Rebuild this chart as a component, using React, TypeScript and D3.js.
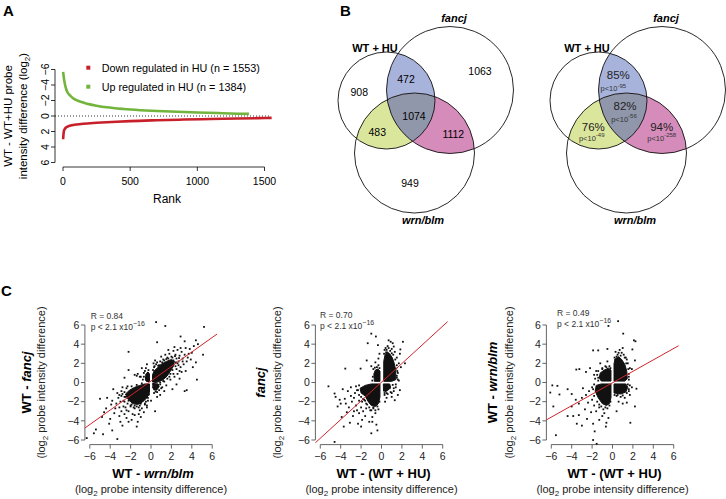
import React from 'react';
import * as d3 from 'd3';

const W = 726, H = 499;
const FONT = "'Liberation Sans', Arial, Helvetica, sans-serif";

// ---------- Panel A data ----------
const rankTicks = [0, 500, 1000, 1500];
const diffTicks = [-6, -4, -2, 0, 2, 4, 6];
const upRank = [1, 5, 10, 20, 35, 50, 75, 100, 150, 200, 250, 325, 450, 575, 700, 850, 1000, 1150, 1300, 1384];
const upDiff = [-5.7, -5.1, -4.5, -3.7, -3.0, -2.7, -2.3, -2.05, -1.75, -1.5, -1.33, -1.12, -0.9, -0.75, -0.64, -0.54, -0.46, -0.38, -0.3, -0.27];
const downRank = [1, 3, 6, 12, 25, 50, 100, 150, 250, 400, 500, 700, 900, 1100, 1300, 1450, 1553];
const downDiff = [3.0, 2.5, 2.0, 1.7, 1.45, 1.25, 1.1, 1.0, 0.88, 0.74, 0.66, 0.55, 0.46, 0.39, 0.33, 0.28, 0.24];
const legendLabels = ['Down regulated in HU (n = 1553)', 'Up regulated in HU (n = 1384)'];

// ---------- Panel B data ----------
const vennSets = ['WT + HU', 'fancj', 'wrn/blm'];
const vennCounts = [908, 1063, 949, 472, 483, 1112, 1074]; // WT only, fancj only, wrn only, WT&fancj, WT&wrn, fancj&wrn, all
const vennPercents = ['85%', '76%', '94%', '82%']; // WT&fancj, WT&wrn, fancj&wrn, all
const vennPExp = ['-95', '-49', '-258', '-56'];

// ---------- Panel C data ----------
const axisTicksC = [-6, -4, -2, 0, 2, 4, 6];
const rValues = ['0.84', '0.70', '0.49'];
const fitIntercept = [0.155, 0.03, -0.03];
const fitSlope = [0.757, 0.975, 0.597];

const scatter1 = [
  [0.5,6.3],[1.4,5.9],[5.2,5.8],[0.6,4.2],[2.9,4.8],[3.3,4.3],[4.4,4.4],[4.6,4.0],[5.1,2.9],[4.4,2.1],[4.5,0.3],[3.5,-0.8],[3.3,-0.9],[2.5,-0.2],[2.1,-0.7],
  [2.6,3.4],[3.0,3.2],[2.8,2.8],[3.4,3.6],[3.8,3.5],[3.1,2.5],[3.6,2.6],[4.0,3.1],[2.4,2.9],[2.0,2.7],[1.6,2.6],[1.2,2.4],[0.9,2.2],[0.5,1.9],[0.3,1.6],[1.8,3.0],[2.2,3.3],[2.7,2.2],[3.2,1.9],[2.9,1.6],[2.5,1.4],[2.6,0.9],[2.3,0.6],[1.9,0.3],[3.0,1.1],[3.9,2.4],[3.4,1.2],[2.8,0.4],[1.5,-0.3],[1.1,-0.5],[3.7,3.0],[4.2,3.8],[2.3,3.7],[1.7,3.4],[3.5,2.2],[4.1,1.6],[2.0,2.0],[2.7,1.8],[3.3,2.9],[1.4,2.9],[2.9,3.6],[1.0,2.7],[0.4,2.3],
  [0.25,2.0],[0.6,2.1],[0.8,1.8],[1.3,2.3],[1.7,2.5],[2.1,2.6],[2.5,2.5],[2.6,2.0],[2.4,1.7],[2.1,1.3],[1.9,0.9],[1.6,0.4],[1.3,0.1],[0.9,0.0],[2.2,0.9],[1.8,0.6],[0.2,1.3],[0.35,1.7],[0.7,1.75],[1.1,2.1],[1.5,2.45],[2.35,2.75],[2.75,2.55],[2.45,2.1],[1.2,0.15],[2.8,1.2],[3.1,2.2],[2.2,2.3],
  [0.3,-0.2],[0.5,-0.4],[0.7,-0.3],[0.4,-0.7],[0.8,-0.8],[0.6,-1.0],[0.9,-1.3],[0.3,-1.1],[1.0,-0.6],[0.2,-0.5],[0.6,-1.5],[1.3,-0.9],[0.4,-3.0],[0.9,-0.2],[0.45,-0.95],
  [-0.3,0.2],[-0.5,0.4],[-0.4,0.8],[-0.7,0.6],[-0.3,1.0],[-0.6,1.2],[-0.2,0.5],[-0.8,0.3],[-1.0,0.6],[-1.3,0.9],[-0.9,1.5],[-0.4,1.9],[-1.4,0.7],[-2.2,3.2],[-2.2,1.3],[-1.1,0.6],[-1.6,0.8],[-2.6,0.5],[-0.5,1.5],[-0.7,1.0],[-0.25,1.3],
  [-5.0,-1.7],[-3.7,-0.7],[-4.3,-1.6],[-3.2,-1.6],[-4.6,-3.1],[-4.0,-3.8],[-5.4,-4.9],[-4.7,-5.4],[-3.8,-5.0],[-3.3,-5.9],[-6.3,-5.8],[-2.8,-4.5],[-1.4,-4.6],[-1.3,-4.1],[-1.1,-2.9],[-1.8,-3.3],[-3.5,-2.7],[-2.7,-2.5],[-2.4,-2.9],[-0.9,-2.7],[-0.6,-2.2],[0.0,-1.9],[-3.0,-2.0],[-2.9,-1.4],[-3.3,-1.1],[-2.6,-1.0],[-2.8,-0.5],[-2.3,-0.4],[-3.9,-2.3],[-3.6,-3.2],[-3.1,-3.5],[-2.6,-3.3],[-2.2,-3.0],[-1.6,-2.7],[-2.0,-2.5],[-1.4,-2.5],[-0.4,-2.6],[-0.7,-3.1],[-1.9,-3.9],[-4.4,-2.7],[-3.0,-4.1],[-4.1,-4.3],[-2.4,-3.7],[-1.0,-3.6],[-1.6,-3.4],[-0.3,-1.6],[-5.6,-5.3],[-2.0,-1.8],[-2.6,-2.0],[-1.5,-1.9],[-3.4,-2.2],[-2.9,-3.0],[-3.8,-1.9],[-4.8,-3.6],[-2.2,-4.1],[-1.2,-3.3],[-0.8,-1.8],[-1.9,-2.3],[-3.1,-2.6],[-2.5,-1.5],
  [-2.6,-1.5],[-2.7,-1.9],[-2.3,-2.2],[-2.0,-2.4],[-1.6,-2.4],[-1.1,-2.4],[-0.6,-2.3],[-0.3,-1.9],[-0.25,-1.3],[-2.4,-0.6],[-1.9,-0.4],[-1.4,-0.25],[-0.9,-0.1],[-2.8,-1.2],[-2.2,-1.9],[-1.2,-2.6],[-0.5,-2.0],[-0.2,-1.2],[-1.7,-2.6],[-2.9,-0.9],[-3.1,-1.3],[-2.5,-2.6],[-1.0,-2.2],[-0.4,-2.4]
];
const scatter2 = [
  [-1.0,5.1],[-0.55,4.8],[-1.35,4.1],[-0.35,3.9],[-1.45,2.3],[-2.05,1.45],[-3.55,1.45],[-5.2,-0.4],[-0.3,2.5],[-0.6,2.1],[-1.0,1.7],[-0.2,3.0],
  [2.1,4.25],[0.9,4.25],[1.2,3.75],[1.85,3.45],[1.8,3.0],[1.45,1.45],[1.8,-0.8],[1.6,-1.3],[1.3,-1.85],[0.5,-1.6],[0.35,-2.0],[1.0,3.5],[0.6,3.8],[1.5,2.6],[1.7,2.0],[1.6,1.0],[2.3,2.0],[0.4,3.6],[1.3,3.2],[1.1,4.1],[0.7,4.4],[1.9,1.6],[1.5,0.5],[1.7,0.2],[1.4,-0.5],
  [0.25,3.0],[0.5,3.4],[0.85,3.3],[1.15,2.9],[1.35,2.4],[1.5,1.8],[1.55,1.2],[1.5,0.7],[0.3,3.4],[0.7,3.6],[1.25,1.5],[1.6,0.3],[0.45,3.15],[1.0,3.05],
  [-0.2,1.5],[-0.45,1.6],[-0.8,1.4],[-0.85,0.6],[-0.9,0.2],[-0.3,1.8],[-0.65,1.55],
  [-4.6,-1.15],[-4.1,-1.8],[-4.5,-1.5],[-3.3,-0.9],[-3.0,-1.4],[-2.4,-0.8],[-3.6,-1.7],[-2.9,-2.0],[-2.5,-2.4],[-2.2,-1.9],[-3.2,-2.6],[-2.7,-3.0],[-3.9,-3.6],[-3.7,-4.6],[-3.1,-4.2],[-2.3,-4.3],[-2.2,-3.2],[-1.8,-3.0],[-1.2,-4.1],[-1.0,-5.3],[-0.4,-5.0],[-4.6,-6.2],[-1.6,-3.5],[-2.0,-2.6],[-1.5,-2.7],[-1.0,-2.9],[-0.6,-3.2],[-0.3,-2.8],[-3.4,-3.1],[-4.3,-2.5],[-2.8,-3.5],[-1.9,-3.9],[-0.9,-3.6],[-3.0,-0.5],[-2.6,-1.1],[-3.8,-0.7],[-4.0,-2.2],[-2.0,-4.6],[-1.4,-2.3],[-0.8,-2.6],[-2.4,-2.9],[-3.5,-2.2],[-1.7,-1.8],[-2.7,-1.6],[-0.5,-4.4],[-0.9,-4.1],
  [-2.2,-0.3],[-2.3,-0.8],[-2.2,-1.3],[-1.8,-1.7],[-1.5,-2.2],[-1.2,-2.6],[-0.8,-2.7],[-0.4,-2.5],[-0.2,-2.0],[-2.5,-0.4],[-1.9,-2.0],[-1.1,-2.9],[-0.6,-2.9],[-2.0,-1.5],[-1.6,-1.9],
  [0.3,-1.3],[0.6,-1.2],[0.9,-1.0],[1.2,-0.9],[0.4,-0.9],[1.4,-0.2],[1.0,-1.5],[0.8,-0.6],[1.0,-1.1],[0.5,-1.1],[1.2,-0.6],[0.3,-1.1],[1.1,-0.25]
];
const scatter3 = [
  [0.55,6.4],[-0.4,5.9],[1.05,5.1],[2.1,4.4],[2.25,4.3],[-1.9,3.35],[-1.4,3.35],[-0.5,3.5],[1.95,3.45],[2.2,2.3],[1.9,1.4],[-3.55,1.35],[-3.25,1.4],[-2.2,1.5],
  [-5.9,-0.3],[-5.4,-0.35],[-6.1,-1.05],[-5.2,-1.25],[-5.8,-2.5],[-4.4,-0.7],[-4.0,-2.5],[-4.4,-3.5],[-3.85,-3.5],[-3.5,-4.3],[-3.0,-4.5],[-5.55,-5.5],[-1.75,-5.1],[-1.9,-6.0],[-1.55,-6.4],[-0.65,-4.6],[-0.6,-4.2],[0.4,-3.0],[2.2,-2.5],[2.35,-0.65],[1.75,-4.2],
  [0.5,2.9],[0.9,3.1],[1.2,2.6],[0.3,3.2],[1.5,2.0],[1.7,1.5],[1.6,0.6],[0.7,3.4],[1.1,2.9],[1.4,2.4],[0.4,2.7],[1.0,3.6],
  [0.2,2.6],[0.8,2.8],[1.35,2.0],[1.55,1.4],[1.6,0.9],[1.6,0.3],[1.3,2.6],[0.6,3.1],[0.25,2.35],
  [-0.3,1.7],[-0.7,1.7],[-1.0,1.4],[-1.6,1.2],[-1.4,0.5],[-1.8,0.8],[-0.5,2.2],[-1.2,2.0],[-2.6,1.1],
  [-0.2,1.5],[-0.6,1.6],[-1.0,1.5],[-1.4,1.2],[-1.5,0.8],[-1.4,0.2],[-1.7,0.4],
  [-2.0,-0.5],[-2.3,-0.9],[-2.6,-1.3],[-3.0,-1.6],[-2.0,-1.8],[-2.4,-2.1],[-1.8,-2.4],[-1.3,-2.6],[-0.9,-2.8],[-0.5,-2.7],[-1.6,-3.0],[-2.1,-3.1],[-2.7,-2.8],[-3.3,-2.2],[-1.0,-3.5],[-1.3,-3.9],[-0.8,-3.2],[-3.6,-1.8],[-2.9,-0.6],[-4.0,-1.2],[-3.3,-3.4],[-2.5,-3.8],[-0.4,-3.7],[-1.9,-4.3],
  [-0.3,-2.4],[-0.7,-2.6],[-1.1,-2.5],[-1.5,-2.0],[-1.8,-1.4],[-1.9,-0.7],[-1.8,-0.2],[-0.2,-2.0],[-1.3,-2.3],
  [1.6,-0.9],[1.7,-1.3],[1.2,-1.6],[0.8,-1.5],[0.4,-1.4],[1.9,-0.5],[1.0,-2.2],[0.6,-2.0],[1.4,-2.1],
  [1.5,-0.2],[1.6,-0.7],[1.4,-1.1],[1.0,-1.35],[0.5,-1.3],[0.2,-1.3],[1.7,-0.3]
];
// dense (saturated) point clouds, outlined in data units
const dense1 = [
  [[0.15,0.05],[0.15,0.8],[0.3,1.2],[0.6,1.5],[1.0,1.9],[1.5,2.2],[2.0,2.4],[2.3,2.2],[2.2,1.7],[1.9,1.2],[1.6,0.7],[1.2,0.3],[0.8,0.1],[0.5,0.0]],
  [[-0.15,-0.15],[-0.15,-1.0],[-0.4,-1.6],[-0.8,-2.0],[-1.3,-2.3],[-1.8,-2.2],[-2.3,-1.7],[-2.5,-1.2],[-2.1,-0.8],[-1.6,-0.5],[-1.1,-0.3],[-0.6,-0.15]],
  [[-0.15,0.1],[-0.15,0.9],[-0.3,1.1],[-0.5,0.9],[-0.55,0.3],[-0.45,0.1]],
  [[0.15,-0.1],[0.7,-0.15],[0.8,-0.45],[0.55,-0.8],[0.25,-0.75]]
];
const dense2 = [
  [[0.22,0.12],[0.22,2.2],[0.35,2.9],[0.55,3.2],[0.8,3.0],[1.05,2.6],[1.25,2.0],[1.4,1.2],[1.4,0.3],[1.0,0.12]],
  [[-0.15,0.12],[-0.15,1.2],[-0.35,1.4],[-0.6,1.3],[-0.75,0.9],[-0.7,0.12]],
  [[-0.15,-0.15],[-0.15,-1.5],[-0.3,-2.2],[-0.6,-2.5],[-1.0,-2.4],[-1.3,-2.0],[-1.6,-1.4],[-2.0,-1.1],[-2.1,-0.6],[-1.6,-0.3],[-1.0,-0.15]],
  [[0.18,-0.15],[0.8,-0.15],[0.9,-0.5],[0.6,-0.85],[0.2,-0.9]]
];
const dense3 = [
  [[0.15,0.15],[0.15,2.0],[0.3,2.5],[0.6,2.7],[0.9,2.4],[1.2,1.9],[1.4,1.2],[1.45,0.4],[1.2,0.15]],
  [[-0.15,0.15],[-0.15,1.3],[-0.4,1.5],[-0.8,1.3],[-1.2,1.0],[-1.3,0.5],[-1.1,0.15]],
  [[-0.15,-0.15],[-0.15,-1.6],[-0.3,-2.2],[-0.6,-2.4],[-1.0,-2.2],[-1.4,-1.6],[-1.7,-0.9],[-1.6,-0.3],[-1.1,-0.15]],
  [[0.15,-0.15],[1.3,-0.15],[1.5,-0.5],[1.3,-1.0],[0.8,-1.2],[0.15,-1.1]]
];

const scatterPoints = [scatter1, scatter2, scatter3];
const densePolys = [dense1, dense2, dense3];

const MINUS = '\u2212';
const fmt = (v: number) => (v < 0 ? MINUS + Math.abs(v) : String(v));

function PanelA() {
  const x = d3.scaleLinear().domain([0, 1500]).range([63, 264.5]);
  const y = d3.scaleLinear().domain([-6, 6]).range([69.5, 162.5]);
  const line = d3.line<[number, number]>().x(d => x(d[0])).y(d => y(d[1])).curve(d3.curveMonotoneX);
  const up = upRank.map((r, i) => [r, upDiff[i]] as [number, number]);
  const down = downRank.map((r, i) => [r, downDiff[i]] as [number, number]);
  const axX = 55, axY = 167;
  return (
    <g fontFamily={FONT}>
      <text x={3} y={16} fontSize={15} fontWeight="bold">A</text>
      <line x1={axX} x2={axX} y1={y(-6)} y2={y(6)} stroke="#000" strokeWidth={0.8} />
      {diffTicks.map(t => (
        <g key={t}>
          <line x1={axX - 4} x2={axX} y1={y(t)} y2={y(t)} stroke="#000" strokeWidth={0.8} />
          <text transform={`translate(${axX - 6},${y(t)}) rotate(-90)`} textAnchor="middle" fontSize={10.5}>{fmt(t)}</text>
        </g>
      ))}
      <line x1={x(0)} x2={x(1500)} y1={axY} y2={axY} stroke="#000" strokeWidth={0.8} />
      {rankTicks.map(t => (
        <g key={t}>
          <line x1={x(t)} x2={x(t)} y1={axY} y2={axY + 4} stroke="#000" strokeWidth={0.8} />
          <text x={x(t)} y={axY + 18} textAnchor="middle" fontSize={10.5}>{t}</text>
        </g>
      ))}
      <text x={167} y={203} textAnchor="middle" fontSize={12}>Rank</text>
      <text transform={`translate(12,116) rotate(-90)`} textAnchor="middle" fontSize={11.5}>WT - WT+HU probe</text>
      <text transform={`translate(27,116) rotate(-90)`} textAnchor="middle" fontSize={11.5}>
        intensity difference (log<tspan fontSize={8} dy={3}>2</tspan><tspan dy={-3}>)</tspan>
      </text>
      <line x1={axX} x2={270} y1={y(0)} y2={y(0)} stroke="#000" strokeWidth={0.8} strokeDasharray="1,2" />
      <path d={line(up) || ''} fill="none" stroke="#72b43c" strokeWidth={2.6} />
      <path d={line(down) || ''} fill="none" stroke="#c8202b" strokeWidth={2.6} />
      <rect x={86.3} y={65.7} width={4} height={4} fill="#c8202b" />
      <rect x={86.3} y={84.7} width={4} height={4} fill="#72b43c" />
      <text x={101.7} y={71.5} fontSize={10.8}>{legendLabels[0]}</text>
      <text x={101.7} y={90.5} fontSize={10.8}>{legendLabels[1]}</text>
    </g>
  );
}

function Venn({ dx, pct }: { dx: number; pct: boolean }) {
  const k = pct ? 'r' : 'l';
  const c = [
    { cx: 386.5 + dx, cy: 100.5, r: 48.5 },
    { cx: 450 + dx, cy: 90, r: 63.5 },
    { cx: 414.5 + dx, cy: 153, r: 60 },
  ];
  const fs = 10.5;
  const numPos = [
    [359.3, 95.5], [480, 74.5], [410, 186.5], [406, 83], [377.3, 135.5], [453.3, 138], [414, 120],
  ];
  const pctPos = [[406.3, 79, 401.3, 91], [381.3, 131, 379.7, 140.5], [449.7, 131, 449.7, 140.5], [413, 110, 412, 121.5]];
  return (
    <g fontFamily={FONT}>
      <defs>
        <clipPath id={`c0${k}`}><circle cx={c[0].cx} cy={c[0].cy} r={c[0].r} /></clipPath>
        <clipPath id={`c1${k}`}><circle cx={c[1].cx} cy={c[1].cy} r={c[1].r} /></clipPath>
      </defs>
      <g clipPath={`url(#c0${k})`}><circle cx={c[1].cx} cy={c[1].cy} r={c[1].r} fill="#a8b3dc" /></g>
      <g clipPath={`url(#c0${k})`}><circle cx={c[2].cx} cy={c[2].cy} r={c[2].r} fill="#dbe69d" /></g>
      <g clipPath={`url(#c1${k})`}><circle cx={c[2].cx} cy={c[2].cy} r={c[2].r} fill="#d58cba" /></g>
      <g clipPath={`url(#c0${k})`}><g clipPath={`url(#c1${k})`}><circle cx={c[2].cx} cy={c[2].cy} r={c[2].r} fill="#9097aa" /></g></g>
      {c.map((ci, i) => <circle key={i} cx={ci.cx} cy={ci.cy} r={ci.r} fill="none" stroke="#111" strokeWidth={0.9} />)}
      <text x={375 + dx} y={51.5} textAnchor="middle" fontSize={11} fontWeight="bold">{vennSets[0]}</text>
      <text x={454 + dx} y={22} textAnchor="middle" fontSize={11} fontWeight="bold" fontStyle="italic">{vennSets[1]}</text>
      <text x={423 + dx} y={224} textAnchor="middle" fontSize={11} fontWeight="bold" fontStyle="italic">{vennSets[2]}</text>
      {!pct && vennCounts.map((v, i) => (
        <text key={i} x={numPos[i][0] + dx} y={numPos[i][1]} textAnchor="middle" fontSize={fs}>{v}</text>
      ))}
      {pct && vennPercents.map((v, i) => (
        <g key={i}>
          <text x={pctPos[i][0] + dx} y={pctPos[i][1]} textAnchor="middle" fontSize={11.5} fill="#222">{v}</text>
          <text x={pctPos[i][2] + dx} y={pctPos[i][3]} textAnchor="middle" fontSize={7.5} fill="#333">
            p&lt;10<tspan dy={-3.5} fontSize={6}>{vennPExp[i]}</tspan>
          </text>
        </g>
      ))}
    </g>
  );
}

const plotX0 = [151, 381.5, 612.5];
const xTitles = [
  [['WT - ', false], ['wrn/blm', true]],
  [['WT - (WT + HU)', false]],
  [['WT - (WT + HU)', false]],
];
const yTitles = [
  [['WT - ', false], ['fancj', true]],
  [['fancj', true]],
  [['WT - ', false], ['wrn/blm', true]],
];
const yTitleOff = [[-54, -40], [-50, -34], [-49, -33]];
const rTextPos = [[90.7, 319], [320, 318], [557, 316]];

function Scatter({ idx }: { idx: number }) {
  const x0 = plotX0[idx];
  const xs = d3.scaleLinear().domain([-6.48, 6.48]).range([x0 - 66.1, x0 + 66.1]);
  const ys = d3.scaleLinear().domain([-6.48, 6.48]).range([444.6, 320.4]);
  const axX = xs(-6.48), axY = ys(-6.48);
  const poly = d3.line<number[]>().x(d => xs(d[0])).y(d => ys(d[1])).curve(d3.curveLinearClosed);
  const a = fitIntercept[idx], b = fitSlope[idx];
  const yMid = 382.5;
  const [rx, ry] = rTextPos[idx];
  return (
    <g fontFamily={FONT}>
      <line x1={axX} x2={axX} y1={ys(-6)} y2={ys(6)} stroke="#555" strokeWidth={0.9} />
      {axisTicksC.map(t => (
        <g key={'y' + t}>
          <line x1={axX - 4} x2={axX} y1={ys(t)} y2={ys(t)} stroke="#555" strokeWidth={0.9} />
          <text x={axX - 5.5} y={ys(t) + 3.8} textAnchor="end" fontSize={10.5} fill="#222">{fmt(t)}</text>
        </g>
      ))}
      <line x1={xs(-6)} x2={xs(6)} y1={axY} y2={axY} stroke="#555" strokeWidth={0.9} />
      {axisTicksC.map(t => (
        <g key={'x' + t}>
          <line x1={xs(t)} x2={xs(t)} y1={axY} y2={axY + 4} stroke="#555" strokeWidth={0.9} />
          <text x={xs(t)} y={axY + 15} textAnchor="middle" fontSize={10.5} fill="#222">{fmt(t)}</text>
        </g>
      ))}
      {densePolys[idx].map((p, i) => <path key={i} d={poly(p) || ''} fill="#111" stroke="#111" strokeWidth={1} />)}
      {scatterPoints[idx].map((p, i) => (
        <rect key={i} x={xs(p[0]) - 0.9} y={ys(p[1]) - 0.9} width={1.8} height={1.8} fill="#111" />
      ))}
      <line x1={xs(-6.48)} y1={ys(a + b * -6.48)} x2={xs(6.48)} y2={ys(a + b * 6.48)} stroke="#d0252b" strokeWidth={1} />
      <text x={rx} y={ry} fontSize={8.5} fill="#333">R = {rValues[idx]}</text>
      <text x={rx} y={ry + 11} fontSize={8.5} fill="#333">p &lt; 2.1 x10<tspan dy={-4} fontSize={7}>{MINUS}16</tspan></text>
      <text x={x0 + 2} y={478} textAnchor="middle" fontSize={13} fontWeight="bold">
        {xTitles[idx].map((p, i) => <tspan key={i} fontStyle={p[1] ? 'italic' : 'normal'}>{p[0] as string}</tspan>)}
      </text>
      <text x={x0} y={493} textAnchor="middle" fontSize={11} fill="#222">
        (log<tspan fontSize={8} dy={3}>2</tspan><tspan dy={-3}> probe intensity difference)</tspan>
      </text>
      <text transform={`translate(${axX + yTitleOff[idx][0]},${yMid}) rotate(-90)`} textAnchor="middle" fontSize={13} fontWeight="bold">
        {yTitles[idx].map((p, i) => <tspan key={i} fontStyle={p[1] ? 'italic' : 'normal'}>{p[0] as string}</tspan>)}
      </text>
      <text transform={`translate(${axX + yTitleOff[idx][1]},${yMid}) rotate(-90)`} textAnchor="middle" fontSize={11} fill="#222">
        (log<tspan fontSize={8} dy={3}>2</tspan><tspan dy={-3}> probe intensity difference)</tspan>
      </text>
    </g>
  );
}

export default function App() {
  return (
    <svg width={W} height={H} viewBox={`0 0 ${W} ${H}`} style={{ position: 'absolute', left: 0, top: 0, background: '#fff' }}>
      <rect x={0} y={0} width={W} height={H} fill="#fff" />
      <PanelA />
      <text x={340} y={16} fontSize={15} fontWeight="bold" fontFamily={FONT}>B</text>
      <Venn dx={0} pct={false} />
      <Venn dx={212} pct={true} />
      <text x={1} y={296} fontSize={15} fontWeight="bold" fontFamily={FONT}>C</text>
      {[0, 1, 2].map(i => <Scatter key={i} idx={i} />)}
    </svg>
  );
}
